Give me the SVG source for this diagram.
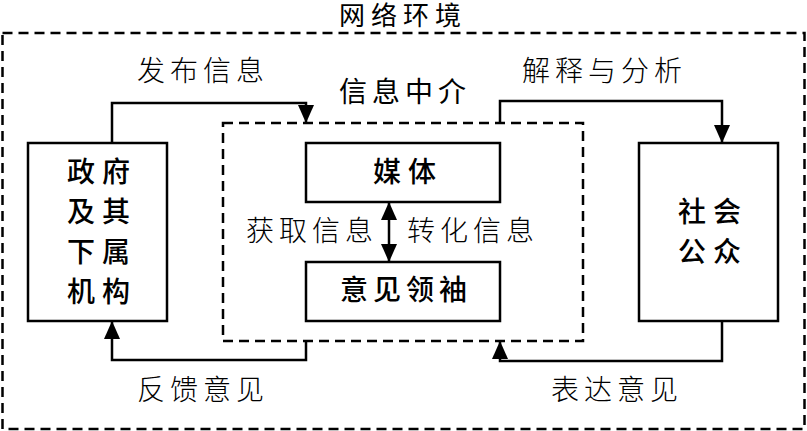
<svg xmlns="http://www.w3.org/2000/svg" width="807" height="431" viewBox="0 0 807 431">
<style>
  .box{fill:#fff;stroke:#000;stroke-width:2.5}
  .dash{fill:none;stroke:#000;stroke-width:2.5;stroke-dasharray:10 6}
  .conn{fill:none;stroke:#000;stroke-width:2.5}
  .lbl{font-family:"Noto Sans CJK SC","Noto Sans",sans-serif;font-size:28px;font-weight:300;letter-spacing:5px;fill:#000}
  .nt{font-family:"Noto Sans CJK SC","Noto Sans",sans-serif;font-size:28px;font-weight:500;letter-spacing:5px;fill:#000}
</style>
<defs>
  <marker id="ah" viewBox="0 0 18 16" refX="18" refY="8" markerWidth="18" markerHeight="16" markerUnits="userSpaceOnUse" orient="auto-start-reverse">
    <path d="M0,0 L18,8 L0,16 z" fill="#000"/>
  </marker>
</defs>
<rect width="807" height="431" fill="#fff"/>
<g id="network">
  <rect class="dash" x="2.5" y="33" width="802" height="396"/>
  <text class="lbl" x="339" y="25" style="font-size:26px;font-weight:400;letter-spacing:6px">网络环境</text>
</g>
<g id="intermediary">
  <rect class="dash" x="223" y="123" width="360" height="218" stroke-width="2"/>
  <text class="lbl" x="339" y="102" style="font-weight:400">信息中介</text>
</g>
<g id="gov">
  <rect class="box" x="28" y="143" width="139" height="178"/>
  <text class="nt" x="67" y="182" style="letter-spacing:7px">政府</text>
  <text class="nt" x="67" y="222" style="letter-spacing:7px">及其</text>
  <text class="nt" x="67" y="262" style="letter-spacing:7px">下属</text>
  <text class="nt" x="67" y="302" style="letter-spacing:7px">机构</text>
</g>
<g id="media">
  <rect class="box" x="306" y="143" width="194" height="59"/>
  <text class="nt" x="373" y="182" style="letter-spacing:7px">媒体</text>
</g>
<g id="leader">
  <rect class="box" x="306" y="262" width="194" height="59"/>
  <text class="nt" x="340" y="300">意见领袖</text>
</g>
<g id="public">
  <rect class="box" x="639" y="143" width="139" height="178"/>
  <text class="nt" x="678" y="222" style="letter-spacing:7px">社会</text>
  <text class="nt" x="678" y="262" style="letter-spacing:7px">公众</text>
</g>
<g id="connectors">
  <path class="conn" d="M112,143 V103 H306 V123" marker-end="url(#ah)"/>
  <path class="conn" d="M500,123 V101 H722 V143" marker-end="url(#ah)"/>
  <path class="conn" d="M722,321 V361 H500 V341" marker-end="url(#ah)"/>
  <path class="conn" d="M306,341 V360 H112 V321" marker-end="url(#ah)"/>
  <path class="conn" d="M389,202 V262" marker-start="url(#ah)" marker-end="url(#ah)"/>
  <text class="lbl" x="137" y="81">发布信息</text>
  <text class="lbl" x="522" y="81">解释与分析</text>
  <text class="lbl" x="137" y="400">反馈意见</text>
  <text class="lbl" x="551" y="400">表达意见</text>
  <text class="lbl" x="246" y="241">获取信息</text>
  <text class="lbl" x="407" y="241">转化信息</text>
</g>
</svg>
